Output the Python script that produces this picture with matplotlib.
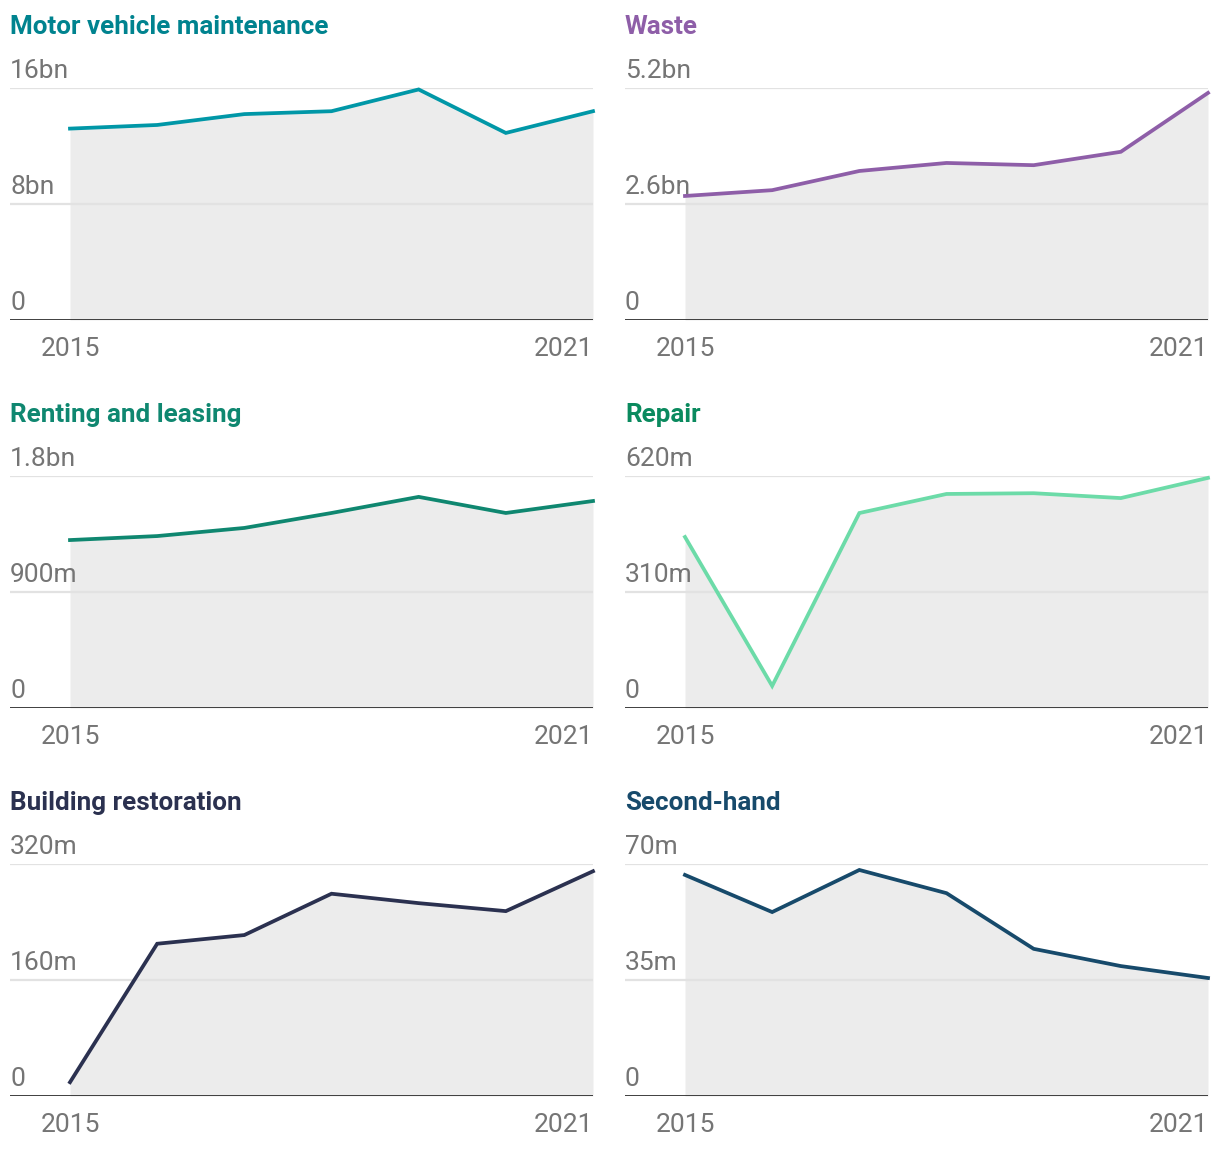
import matplotlib.pyplot as plt
import matplotlib.transforms as mtransforms

plt.rcParams['font.family'] = ['Roboto', 'DejaVu Sans']

years = [2015, 2016, 2017, 2018, 2019, 2020, 2021]

# values
motor = [13.2, 13.45, 14.2, 14.4, 15.9, 12.9, 14.4]        # bn
waste = [2.78, 2.91, 3.34, 3.52, 3.47, 3.77, 5.09]         # bn
renting = [1303, 1334, 1397, 1513, 1638, 1513, 1606]       # m
repair = [457, 59, 521, 572, 574, 561, 615]                # m
building = [19, 210, 222, 279, 266, 255, 310]              # m
second_hand = [66.7, 55.5, 68.2, 61.2, 44.4, 39.2, 35.6]   # m

titles = ['Motor vehicle maintenance', 'Waste', 'Renting and leasing',
          'Repair', 'Building restoration', 'Second-hand']
series = [motor, waste, renting, repair, building, second_hand]
tick_vals = [[0, 8, 16], [0, 2.6, 5.2], [0, 900, 1800],
             [0, 310, 620], [0, 160, 320], [0, 35, 70]]
tick_labels = [['0', '8bn', '16bn'], ['0', '2.6bn', '5.2bn'], ['0', '900m', '1.8bn'],
               ['0', '310m', '620m'], ['0', '160m', '320m'], ['0', '35m', '70m']]
line_colors = ['#0097a7', '#8e5ea8', '#0f8770', '#6cdba8', '#2b3150', '#174a6b']
title_colors = ['#00838f', '#8e5ea8', '#0f8770', '#0a8a5e', '#2b3150', '#174a6b']

W, H = 1220, 1154
fig = plt.figure(figsize=(W / 100, H / 100), dpi=100)

lefts = [10, 625]
tops = [88, 476, 864]
ax_w = 583
ax_h = 232

for i in range(6):
    row, col = divmod(i, 2)
    x0 = lefts[col]
    top = tops[row]
    ax = fig.add_axes([x0 / W, 1 - (top + ax_h) / H, ax_w / W, ax_h / H])
    vals = series[i]
    ymax = tick_vals[i][-1]
    # 2015 sits 60px in from the left edge, 2021 at the right edge
    px_per_year = (ax_w - 60) / 6
    ax.set_xlim(2015 - 60 / px_per_year, 2021)
    ax.set_ylim(0, ymax)
    ax.axis('off')

    for v in tick_vals[i][1:]:
        ax.axhline(v, color='#e2e2e2', lw=1.6, zorder=1)
    ax.fill_between(years, 0, vals, color='#ececec', lw=0, zorder=0)
    ax.plot(years, vals, color=line_colors[i], lw=2.7, zorder=3,
            solid_joinstyle='miter', clip_on=False)
    ax.axhline(0, color='#2e2e2e', lw=2.0, zorder=4)

    trans = mtransforms.blended_transform_factory(ax.transAxes, ax.transData)
    for v, lab in zip(tick_vals[i], tick_labels[i]):
        ax.annotate(lab, xy=(0, v), xycoords=trans, xytext=(0, 3.5),
                    textcoords='offset points', ha='left', va='bottom',
                    fontsize=19, color='#757575', zorder=5)

    ax.annotate('2015', xy=(2015, 0), xycoords='data', xytext=(0, -12.5),
                textcoords='offset points', ha='center', va='top',
                fontsize=19, color='#757575')
    ax.annotate('2021', xy=(2021, 0), xycoords='data', xytext=(0, -12.5),
                textcoords='offset points', ha='right', va='top',
                fontsize=19, color='#757575')

    fig.text(x0 / W, 1 - (top - 61) / H, titles[i], ha='left', va='center',
             fontsize=18.7, fontweight='bold', color=title_colors[i])

fig.savefig('out.png', dpi=100)
